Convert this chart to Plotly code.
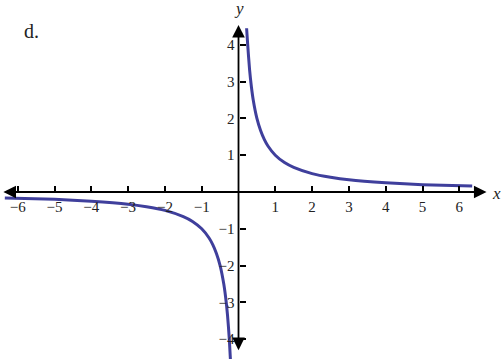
import plotly.graph_objects as go

# Curve points (right and left branches of the hyperbola)
x_right = [0.22, 0.25, 0.3, 0.35, 0.4, 0.5, 0.6, 0.7, 0.8, 1.0, 1.25, 1.5, 2.0, 2.5, 3.0, 4.0, 5.0, 6.35]
y_right = [4.45, 4.0, 3.33, 2.86, 2.5, 2.0, 1.67, 1.43, 1.25, 1.0, 0.8, 0.67, 0.5, 0.4, 0.33, 0.25, 0.2, 0.16]
x_left = [-6.35, -5.0, -4.0, -3.0, -2.5, -2.0, -1.5, -1.25, -1.0, -0.8, -0.7, -0.6, -0.5, -0.4, -0.35, -0.3, -0.25, -0.22]
y_left = [-0.16, -0.2, -0.25, -0.33, -0.4, -0.5, -0.67, -0.8, -1.0, -1.25, -1.43, -1.67, -2.0, -2.5, -2.86, -3.33, -4.0, -4.55]

x_ticks = [-6, -5, -4, -3, -2, -1, 1, 2, 3, 4, 5, 6]
y_ticks = [-4, -3, -2, -1, 1, 2, 3, 4]

W, H = 502, 359
x_range = [-6.481, 7.160]
y_range = [-4.538, 5.217]
x_axis_ends = [-6.43, 6.74]
y_axis_ends = [-4.34, 4.54]

CURVE = "#3F3F9C"
SERIF = "Liberation Serif"

fig = go.Figure()
for xs, ys in [(x_right, y_right), (x_left, y_left)]:
    fig.add_trace(go.Scatter(x=xs, y=ys, mode="lines",
                             line=dict(color=CURVE, width=3, shape="spline", smoothing=0.6),
                             hoverinfo="skip", showlegend=False))

xpos = (0 - y_range[0]) / (y_range[1] - y_range[0])
ypos = (0 - x_range[0]) / (x_range[1] - x_range[0])

fig.update_layout(
    width=W, height=H,
    margin=dict(l=0, r=0, t=0, b=0),
    paper_bgcolor="white", plot_bgcolor="white",
    xaxis=dict(range=x_range, anchor="free", position=xpos, showgrid=False, zeroline=False,
               showline=False, tickvals=x_ticks, ticks="inside", ticklen=6, tickwidth=1.5,
               tickcolor="black", ticklabelstandoff=4,
               tickfont=dict(family=SERIF, size=15, color="#222"),
               automargin=False, fixedrange=True),
    yaxis=dict(range=y_range, anchor="free", position=ypos, showgrid=False, zeroline=False,
               showline=False, tickvals=y_ticks, ticks="inside", ticklen=6, tickwidth=1.5,
               tickcolor="black", ticklabelstandoff=4,
               tickfont=dict(family=SERIF, size=15, color="#222"),
               automargin=False, fixedrange=True),
)

# Axis lines with arrows at both ends
fig.add_annotation(x=x_axis_ends[1], y=0, ax=x_axis_ends[0], ay=0, xref="x", yref="y",
                   axref="x", ayref="y", showarrow=True, arrowhead=2, arrowside="end+start",
                   arrowsize=1.4, arrowwidth=1.8, arrowcolor="black", standoff=0, startstandoff=0, text="")
fig.add_annotation(x=0, y=y_axis_ends[1], ax=0, ay=y_axis_ends[0], xref="x", yref="y",
                   axref="x", ayref="y", showarrow=True, arrowhead=2, arrowside="end+start",
                   arrowsize=1.4, arrowwidth=1.8, arrowcolor="black", standoff=0, startstandoff=0, text="")

# text labels, positioned by window pixel centre
labels = [(496, 193, "<i>x</i>", 17), (239, 9, "<i>y</i>", 17), (31, 31, "d.", 20)]
for px, py, txt, size in labels:
    fig.add_annotation(x=px / W, y=1 - py / H, xref="paper", yref="paper",
                       xanchor="center", yanchor="middle", text=txt, showarrow=False,
                       font=dict(family=SERIF, size=size, color="#222"))

fig.write_html("out.html", config={"displayModeBar": False},
               post_script="document.body.style.margin='0';document.body.style.overflow='hidden';")
